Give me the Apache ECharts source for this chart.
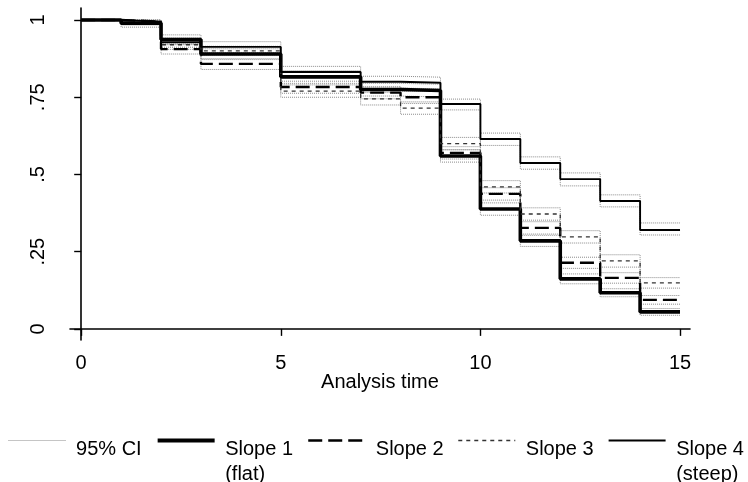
<!DOCTYPE html>
<html>
<head>
<meta charset="utf-8">
<script src="https://cdn.jsdelivr.net/npm/echarts@6/dist/echarts.min.js"></script>
<style>
  html, body { margin: 0; padding: 0; background: #fff; }
  #chart { width: 748px; height: 482px; }
</style>
</head>
<body>
<div id="chart"></div>
<script>
// analysis time points (step changes happen at each point)
const times = [0, 1, 2, 3, 4, 5, 6, 7, 8, 9, 10, 11, 12, 13, 14, 15]

// survival estimates, value holds from t[i] to t[i+1]
const slope1 = [1, 0.99, 0.937, 0.89, 0.89, 0.816, 0.816, 0.775, 0.772, 0.56, 0.388, 0.285, 0.162, 0.117, 0.055, 0.055]
const slope2 = [1, 0.995, 0.906, 0.858, 0.858, 0.783, 0.783, 0.765, 0.75, 0.57, 0.437, 0.327, 0.214, 0.165, 0.094, 0.094]
const slope3 = [1, 0.995, 0.92, 0.9, 0.9, 0.77, 0.77, 0.745, 0.715, 0.6, 0.46, 0.372, 0.298, 0.22, 0.149, 0.149]
const slope4 = [1, 0.995, 0.928, 0.913, 0.913, 0.832, 0.832, 0.8, 0.797, 0.728, 0.615, 0.537, 0.485, 0.414, 0.32, 0.32]

// 95% confidence bounds
const slope1Upper = [1, 0.997, 0.952, 0.907, 0.907, 0.836, 0.836, 0.795, 0.792, 0.58, 0.408, 0.303, 0.178, 0.13, 0.066, 0.066]
const slope1Lower = [1, 0.977, 0.92, 0.872, 0.872, 0.795, 0.795, 0.754, 0.751, 0.54, 0.368, 0.267, 0.146, 0.104, 0.044, 0.044]
const slope2Upper = [1, 1, 0.922, 0.875, 0.875, 0.802, 0.802, 0.785, 0.77, 0.59, 0.457, 0.347, 0.232, 0.182, 0.108, 0.108]
const slope2Lower = [1, 0.985, 0.89, 0.84, 0.84, 0.763, 0.763, 0.745, 0.73, 0.55, 0.417, 0.307, 0.196, 0.148, 0.08, 0.08]
const slope3Upper = [1, 1, 0.935, 0.915, 0.915, 0.79, 0.79, 0.765, 0.735, 0.62, 0.48, 0.392, 0.318, 0.24, 0.166, 0.166]
const slope3Lower = [1, 0.985, 0.905, 0.885, 0.885, 0.75, 0.75, 0.725, 0.695, 0.58, 0.44, 0.352, 0.278, 0.2, 0.132, 0.132]
const slope4Upper = [1, 1, 0.942, 0.93, 0.93, 0.85, 0.85, 0.818, 0.815, 0.744, 0.634, 0.557, 0.505, 0.434, 0.343, 0.343]
const slope4Lower = [1, 0.985, 0.912, 0.895, 0.895, 0.813, 0.813, 0.78, 0.777, 0.709, 0.594, 0.517, 0.463, 0.395, 0.304, 0.304]

// tick labels
const xTicks = [0, 5, 10, 15]
const yTicks = [0, 0.25, 0.5, 0.75, 1]
const yTickLabels = ['0', '.25', '.5', '.75', '1']

// legend names and second text lines
const legendNames = ['95% CI', 'Slope 1', 'Slope 2', 'Slope 3', 'Slope 4']
const legendSubs = { 'Slope 1': '(flat)', 'Slope 4': '(steep)' }

const FONT = '"Liberation Sans", Arial, sans-serif'

const pairs = (ys) => times.map((t, i) => [t, ys[i]])

const ciStyle = { color: '#8a8a8a', width: 1, type: [1, 1] }

const ciSeries = [slope1Upper, slope1Lower, slope2Upper, slope2Lower,
  slope3Upper, slope3Lower, slope4Upper, slope4Lower].map(ys => ({
  name: '95% CI',
  type: 'line',
  step: 'end',
  showSymbol: false,
  symbol: 'none',
  silent: true,
  itemStyle: { color: '#8a8a8a' },
  lineStyle: ciStyle,
  data: pairs(ys)
}))

const lineSeries = (name, ys, lineStyle) => ({
  name,
  type: 'line',
  step: 'end',
  showSymbol: false,
  symbol: 'none',
  itemStyle: { color: lineStyle.color },
  lineStyle,
  data: pairs(ys)
})

const chart = echarts.init(document.getElementById('chart'))

// spacer lines push the text below the legend line, as in the original
const textRich = {
  s1: { fontSize: 1, lineHeight: 17 },
  s2: { fontSize: 1, lineHeight: 42 },
  t: { color: '#000', fontSize: 20, fontFamily: FONT, lineHeight: 25 }
}

const option = {
  animation: false,
  backgroundColor: '#fff',
  grid: { left: 70, right: 58, top: 8, bottom: 142 },
  xAxis: {
    type: 'value',
    min: -0.28,
    max: 15.25,
    name: 'Analysis time',
    nameLocation: 'middle',
    nameGap: 32,
    nameMoveOverlap: false,
    nameTextStyle: { color: '#000', fontSize: 20, fontFamily: FONT },
    splitLine: { show: false },
    axisLine: { lineStyle: { color: '#000', width: 1.6 } },
    axisTick: { customValues: xTicks, length: 7, lineStyle: { color: '#000', width: 1.4 } },
    axisLabel: {
      customValues: xTicks,
      margin: 13,
      color: '#000',
      fontSize: 20,
      fontFamily: FONT
    }
  },
  yAxis: {
    type: 'value',
    min: -0.036,
    max: 1.039,
    splitLine: { show: false },
    axisLine: { show: true, lineStyle: { color: '#000', width: 1.6 } },
    axisTick: { show: true, customValues: yTicks, length: 7, lineStyle: { color: '#000', width: 1.4 } },
    axisLabel: {
      customValues: yTicks,
      rotate: 90,
      margin: 22,
      color: '#000',
      fontSize: 20,
      fontFamily: FONT,
      formatter: (v) => yTickLabels[yTicks.indexOf(v)]
    }
  },
  legend: {
    left: 8,
    top: 415,
    width: 748,
    padding: 0,
    itemWidth: 57,
    itemHeight: 14,
    itemGap: 14,
    itemStyle: { opacity: 0, borderWidth: 0 },
    textStyle: { color: '#000', fontSize: 20, fontFamily: FONT, rich: textRich },
    formatter: (name) => {
      const sub = legendSubs[name]
      if (sub) return '{s2| }\n{t| ' + name + '}\n{t| ' + sub + '}'
      return '{s1| }\n{t| ' + name + '}'
    },
    data: [
      { name: legendNames[0], lineStyle: { width: 1 } },
      { name: legendNames[1], lineStyle: { width: 4 } },
      { name: legendNames[2], lineStyle: { width: 2.4 } },
      { name: legendNames[3], lineStyle: { width: 1.3 } },
      { name: legendNames[4], lineStyle: { width: 1.9 } }
    ]
  },
  series: [
    ...ciSeries,
    lineSeries('Slope 1', slope1, { color: '#000', width: 3.6 }),
    lineSeries('Slope 2', slope2, { color: '#000', width: 2.4, type: [14, 6] }),
    lineSeries('Slope 3', slope3, { color: '#333', width: 1.3, type: [4, 4] }),
    lineSeries('Slope 4', slope4, { color: '#000', width: 1.9 })
  ]
}

chart.setOption(option)
</script>
</body>
</html>
